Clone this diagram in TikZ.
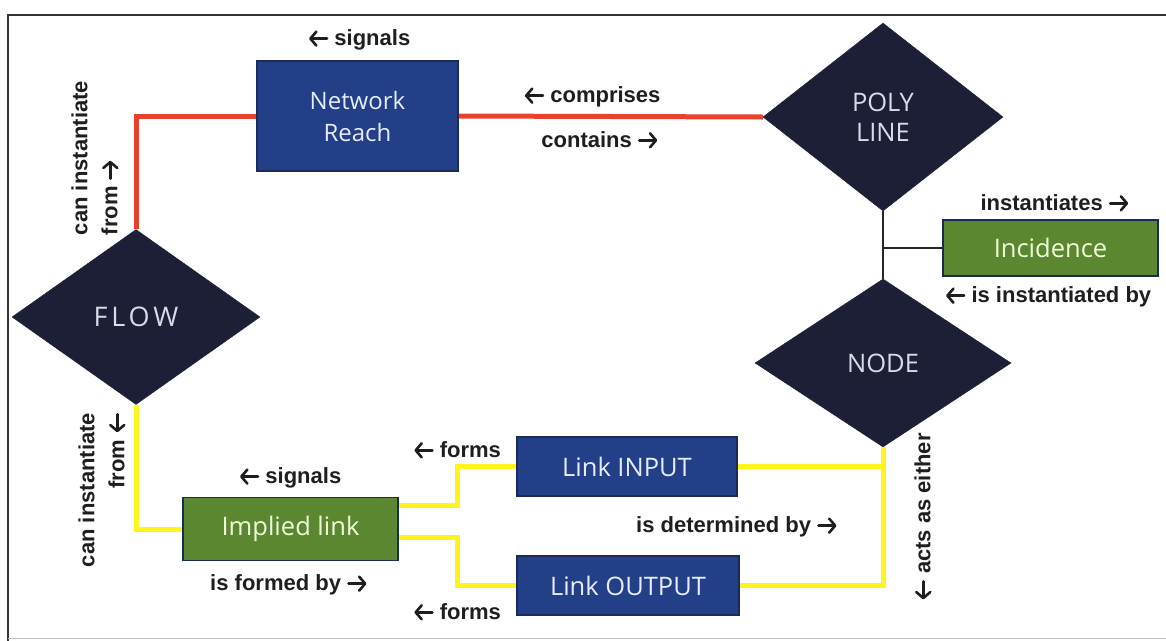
\documentclass[tikz,border=0pt]{standalone}
\usepackage{fontspec}
\usetikzlibrary{shapes.geometric,calc,arrows.meta}
\newfontfamily\labfont{Liberation Sans}
\newfontfamily\boxfont{Open Sans}
\newfontfamily\flowfont{Open Sans}[LetterSpace=14]
\definecolor{navy}{HTML}{1C1F36}
\definecolor{boxblue}{HTML}{233F88}
\definecolor{boxedge}{HTML}{1A2A5A}
\definecolor{boxgreen}{HTML}{5B8731}
\definecolor{redline}{HTML}{E8412C}
\definecolor{yellowline}{HTML}{FFF51E}
\definecolor{labcol}{HTML}{1E1E1E}
\definecolor{diamtext}{HTML}{D8DCE8}
\definecolor{bluetext}{HTML}{E6ECFF}
\definecolor{greentext}{HTML}{F0FFD8}
\newcommand{\rarr}{\tikz[baseline=-0.32em]\draw[labcol, line width=2.6pt, line cap=round,
  -{Straight Barb[length=6pt,width=14pt,round]}] (0pt,0pt) -- (18pt,0pt);}
\newcommand{\larr}{\tikz[baseline=-0.32em]\draw[labcol, line width=2.6pt, line cap=round,
  -{Straight Barb[length=6pt,width=14pt,round]}] (18pt,0pt) -- (0pt,0pt);}
\begin{document}
\begin{tikzpicture}[x=1pt,y=-1pt,
  diam/.style={diamond, fill=navy, draw=navy, inner sep=0pt, text=diamtext,
    font=\boxfont\fontsize{25.5}{30}\selectfont, align=center},
  bluebox/.style={rectangle, fill=boxblue, draw=boxedge, line width=1.5pt, inner sep=0pt,
    text=bluetext, font=\boxfont\fontsize{25.5}{32}\selectfont, align=center},
  greenbox/.style={rectangle, fill=boxgreen, draw=boxedge, line width=1.5pt, inner sep=0pt,
    text=greentext, font=\boxfont\fontsize{25.5}{29}\selectfont, align=center},
  lab/.style={font=\labfont\bfseries\fontsize{22}{30}\selectfont, text=labcol, inner sep=0pt},
  redconn/.style={draw=redline, line width=5pt},
  yelconn/.style={draw=yellowline, line width=5pt},
  thinconn/.style={draw=black!85, line width=1.3pt}
]
\useasboundingbox (0,0) rectangle (1166,640);
% frame
\draw[line width=1.5pt, black!80] (8,650) -- (8,15) -- (1175,15);
\draw[line width=1pt, black!25] (8,638) -- (1175,638);

% nodes
\node[diam, minimum width=248pt, minimum height=175pt, font=\flowfont\fontsize{27}{30}\selectfont] (FLOW) at (136,317) {FLOW};
\node[diam, minimum width=240pt, minimum height=188pt] (POLY) at (883,117) {POLY\\LINE};
\node[diam, minimum width=256pt, minimum height=168pt] (NODE) at (883,363) {NODE};
\node[bluebox, minimum width=201pt, minimum height=110pt, font=\boxfont\fontsize{24}{32}\selectfont] (NR) at (357.5,116) {Network\\Reach};
\node[greenbox, minimum width=215pt, minimum height=56pt] (INC) at (1050.5,248) {Incidence};
\node[greenbox, minimum width=215pt, minimum height=63pt] (IL) at (290.5,529) {Implied link};
\node[bluebox, minimum width=220pt, minimum height=59pt] (LI) at (627,466.5) {Link INPUT};
\node[bluebox, minimum width=222pt, minimum height=59pt] (LO) at (628,585.5) {Link OUTPUT};

\coordinate (jx) at (457,0);

% connectors
\draw[redconn] (NR.west) -| (FLOW.north);
\draw[redconn] (NR.east) -- (POLY.west);
\draw[thinconn] (POLY.south) -- (NODE.north);
\draw[thinconn] (INC.west) -- (INC.west -| POLY.south);
\draw[yelconn] (FLOW.south) |- (IL.west);
\draw[yelconn] ([yshift=24pt]IL.east) -| (jx |- LI.west) -- (LI.west);
\draw[yelconn] ([yshift=-8pt]IL.east) -| (jx |- LO.west) -- (LO.west);
\draw[yelconn] (LI.east) -- (LI.east -| NODE.south);
\draw[yelconn] (NODE.south) |- (LO.east);

% labels
\node[lab] (l1) at (359,40) {\larr{} signals};
\node[lab] (l2) at (592,97) {\larr{} comprises};
\node[lab] (l3) at (600,140) {contains \rarr};
\node[lab] (l4) at (1055,203) {instantiates \rarr};
\node[lab] (l5) at (1048,297) {\larr{} is instantiated by};
\node[lab, rotate=90, align=left] (l6) at (95,158) {can instantiate\\from \rarr};
\node[lab, rotate=90, align=right] (l7) at (102,490) {can instantiate\\from \larr};
\node[lab] (l8) at (290,478) {\larr{} signals};
\node[lab] (l9) at (289,585) {is formed by \rarr};
\node[lab] (l10) at (457,450) {\larr{} forms};
\node[lab] (l11) at (457,612) {\larr{} forms};
\node[lab] (l12) at (737,527) {is determined by \rarr};
\node[lab, rotate=90] (l13) at (923,517) {\larr{} acts as either};
\end{tikzpicture}
\end{document}
